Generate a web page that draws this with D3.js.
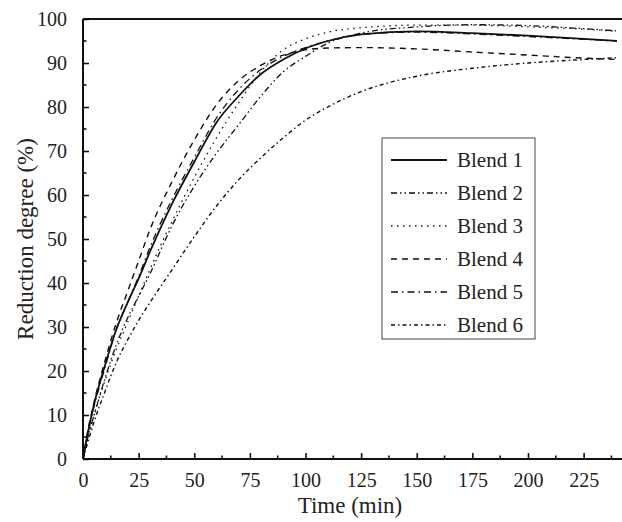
<!DOCTYPE html>
<html><head><meta charset="utf-8"><script src="https://cdn.jsdelivr.net/npm/d3@7/dist/d3.min.js"></script></head>
<body style="margin:0">
<svg id="chart" width="622" height="522" style="font-family: 'Times New Roman', 'Liberation Serif', serif;"></svg>
<script>
// Reduction degree vs time for six blends
const TIME = [0, 2, 5, 10, 15, 20, 25, 30, 40, 50, 60, 70, 80, 90, 100, 110, 125, 150, 175, 200, 225, 240];

const BLEND1 = [0, 5.5, 12.5, 21.5, 29.5, 35.5, 41, 47, 58, 67.5, 76.5, 82.5, 87.5, 90.8, 93.3, 95, 96.5, 97.2, 96.8, 96.2, 95.5, 95];
const BLEND2 = [0, 4.5, 10, 18.5, 26, 32, 37, 42, 53, 62, 69.5, 76, 82.5, 88, 91.5, 94.5, 96.8, 98.2, 98.7, 98.5, 97.8, 97.3];
const BLEND3 = [0, 4.5, 10, 18, 25, 31, 37, 43, 54, 64, 73, 81, 88, 93, 95.5, 97, 98, 98.6, 98.6, 98.2, 97.7, 97.2];
const BLEND4 = [0, 6, 13, 22.5, 31, 38, 45, 52, 63, 72.5, 80.5, 86, 89.5, 91.8, 93, 93.4, 93.5, 93.2, 92.5, 91.8, 91.1, 90.8];
const BLEND5 = [0, 5.5, 12, 21, 29.5, 35.5, 41.5, 48, 59, 68.5, 77.5, 84, 88.5, 91.5, 93.5, 95, 96.5, 97, 96.6, 96, 95.4, 95];
const BLEND6 = [0, 3.5, 8.5, 15.5, 22, 27, 31.5, 35.5, 43, 50.5, 57.5, 63.5, 68.5, 73, 77, 80, 83.5, 87, 88.8, 90, 90.8, 91.2];

const LABELS = ["Blend 1", "Blend 2", "Blend 3", "Blend 4", "Blend 5", "Blend 6"];
const VALUES = [BLEND1, BLEND2, BLEND3, BLEND4, BLEND5, BLEND6];
const DASHES = ["", "6,3,1.5,3,1.5,3", "1.5,4.5", "6,5", "7,4,1.5,4", "4,3,1.5,3"];
const WIDTHS = [1.8, 1.3, 1.3, 1.4, 1.3, 1.4];

const X_TICKS = d3.range(0, 226, 25);
const Y_TICKS = d3.range(0, 101, 10);

const FONT = "Times New Roman";

const svg = d3.select("#chart");
const pLeft = 83, pRight = 617, pTop = 19, pBottom = 459;

const x = d3.scaleLinear().domain([0, 240]).range([pLeft, pRight]);
const y = d3.scaleLinear().domain([0, 100]).range([pBottom, pTop]);

// curves
const line = d3.line().x((d) => x(d[0])).y((d) => y(d[1])).curve(d3.curveMonotoneX);
VALUES.forEach((vals, i) => {
  svg.append("path")
    .datum(TIME.map((t, j) => [t, vals[j]]))
    .attr("fill", "none").attr("stroke", "#111")
    .attr("stroke-width", WIDTHS[i])
    .attr("stroke-dasharray", DASHES[i] || null)
    .attr("d", line);
});

// top frame line (no right frame visible in the original)
svg.append("line")
  .attr("x1", pLeft).attr("x2", 622).attr("y1", pTop).attr("y2", pTop)
  .attr("stroke", "#111").attr("stroke-width", 2);

// axes: ticks point inward
const xAxis = svg.append("g").attr("transform", `translate(0,${pBottom})`)
  .call(d3.axisBottom(x).tickValues(X_TICKS).tickSize(-6).tickPadding(14));
xAxis.append("g").selectAll("line").data(d3.range(12.5, 240, 25)).join("line")
  .attr("x1", (d) => x(d)).attr("x2", (d) => x(d)).attr("y1", 0).attr("y2", -3.5)
  .attr("stroke", "#111").attr("stroke-width", 1.6);

const yAxis = svg.append("g").attr("transform", `translate(${pLeft},0)`)
  .call(d3.axisLeft(y).tickValues(Y_TICKS).tickSize(-6).tickPadding(16));
yAxis.append("g").selectAll("line").data(d3.range(5, 100, 10)).join("line")
  .attr("y1", (d) => y(d)).attr("y2", (d) => y(d)).attr("x1", 0).attr("x2", 3.5)
  .attr("stroke", "#111").attr("stroke-width", 1.6);

svg.selectAll(".domain").attr("stroke", "#111").attr("stroke-width", 2);
xAxis.select(".domain").attr("d", `M${pLeft},0H622`);
yAxis.select(".domain").attr("d", `M0,${pBottom}V${pTop}`);
svg.selectAll(".tick line").attr("stroke", "#111").attr("stroke-width", 1.6);
xAxis.attr("font-family", FONT).attr("font-size", 20);
yAxis.attr("font-family", FONT).attr("font-size", 20);
svg.selectAll(".tick text")
  .attr("font-family", FONT).attr("font-size", 20).attr("fill", "#222");

// axis titles
svg.append("text")
  .attr("x", (pLeft + pRight) / 2).attr("y", 513)
  .attr("text-anchor", "middle")
  .attr("font-family", FONT).attr("font-size", 23).attr("fill", "#222")
  .text("Time (min)");
svg.append("text")
  .attr("transform", `translate(33,${(pTop + pBottom) / 2}) rotate(-90)`)
  .attr("text-anchor", "middle")
  .attr("font-family", FONT).attr("font-size", 23).attr("fill", "#222")
  .text("Reduction degree (%)");

// legend
const lg = svg.append("g");
lg.append("rect")
  .attr("x", 382).attr("y", 138).attr("width", 153).attr("height", 201)
  .attr("fill", "#fff").attr("stroke", "#444").attr("stroke-width", 1);
LABELS.forEach((name, i) => {
  const cy = 160 + i * 33;
  lg.append("line")
    .attr("x1", 391).attr("x2", 447).attr("y1", cy).attr("y2", cy)
    .attr("stroke", "#111").attr("stroke-width", WIDTHS[i])
    .attr("stroke-dasharray", DASHES[i] || null);
  lg.append("text")
    .attr("x", 457).attr("y", cy).attr("dy", "0.35em")
    .attr("font-family", FONT).attr("font-size", 21).attr("fill", "#222")
    .text(name);
});
</script>
</body>
</html>
